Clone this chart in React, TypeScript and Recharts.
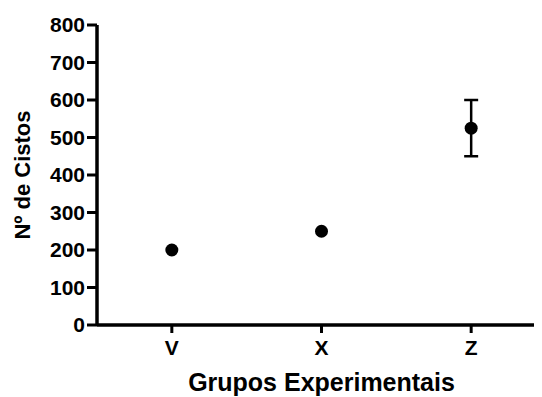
import React from 'react';
import { ScatterChart, Scatter, XAxis, YAxis, ErrorBar, Label } from 'recharts';

const groups = ['V', 'X', 'Z'];
const positions = [0.5, 1.5, 2.5];
const counts = [200, 250, 525];
const errors = [0, 0, 75];
const yTicks = [0, 100, 200, 300, 400, 500, 600, 700, 800];

const data = groups.map((g, i) => ({ x: positions[i], y: counts[i], err: errors[i], name: g }));

const font = '"Liberation Sans", Arial, Helvetica, sans-serif';

const Dot = (props: any) => <circle cx={props.cx} cy={props.cy} r={6.5} fill="#000" />;

export default function App() {
  return (
    <div style={{ width: 534, height: 389, overflow: 'hidden' }}>
      <ScatterChart width={540} height={389} margin={{ top: 17, right: 2, bottom: 0, left: 0 }}>
        <XAxis
          type="number"
          dataKey="x"
          domain={[0, 3]}
          ticks={positions}
          tickFormatter={(v: number) => groups[positions.indexOf(v)] ?? ''}
          height={72}
          axisLine={{ stroke: '#000', strokeWidth: 3.5 }}
          tickLine={{ stroke: '#000', strokeWidth: 3 }}
          tickSize={8}
          tickMargin={7}
          tick={{ fill: '#000', fontSize: 21, fontWeight: 'bold', fontFamily: font }}
          allowDataOverflow
        >
          <Label
            value="Grupos Experimentais"
            position="insideBottom"
            offset={6}
            style={{ fill: '#000', fontSize: 25, fontWeight: 'bold', fontFamily: font }}
          />
        </XAxis>
        <YAxis
          type="number"
          dataKey="y"
          domain={[0, 800]}
          ticks={yTicks}
          width={89}
          axisLine={{ stroke: '#000', strokeWidth: 3.5 }}
          tickLine={{ stroke: '#000', strokeWidth: 3 }}
          tickSize={10}
          tickMargin={2}
          interval={0}
          tick={{ fill: '#000', fontSize: 21, fontWeight: 'bold', fontFamily: font }}
        >
          <Label
            value="Nº de Cistos"
            angle={-90}
            position="insideLeft"
            offset={14}
            style={{ textAnchor: 'middle', fill: '#000', fontSize: 22, fontWeight: 'bold', fontFamily: font }}
          />
        </YAxis>
        <Scatter data={data} fill="#000" isAnimationActive={false} shape={Dot} legendType="none">
          <ErrorBar dataKey="err" direction="y" width={7} stroke="#000" strokeWidth={2.5} isAnimationActive={false} />
        </Scatter>
      </ScatterChart>
    </div>
  );
}
